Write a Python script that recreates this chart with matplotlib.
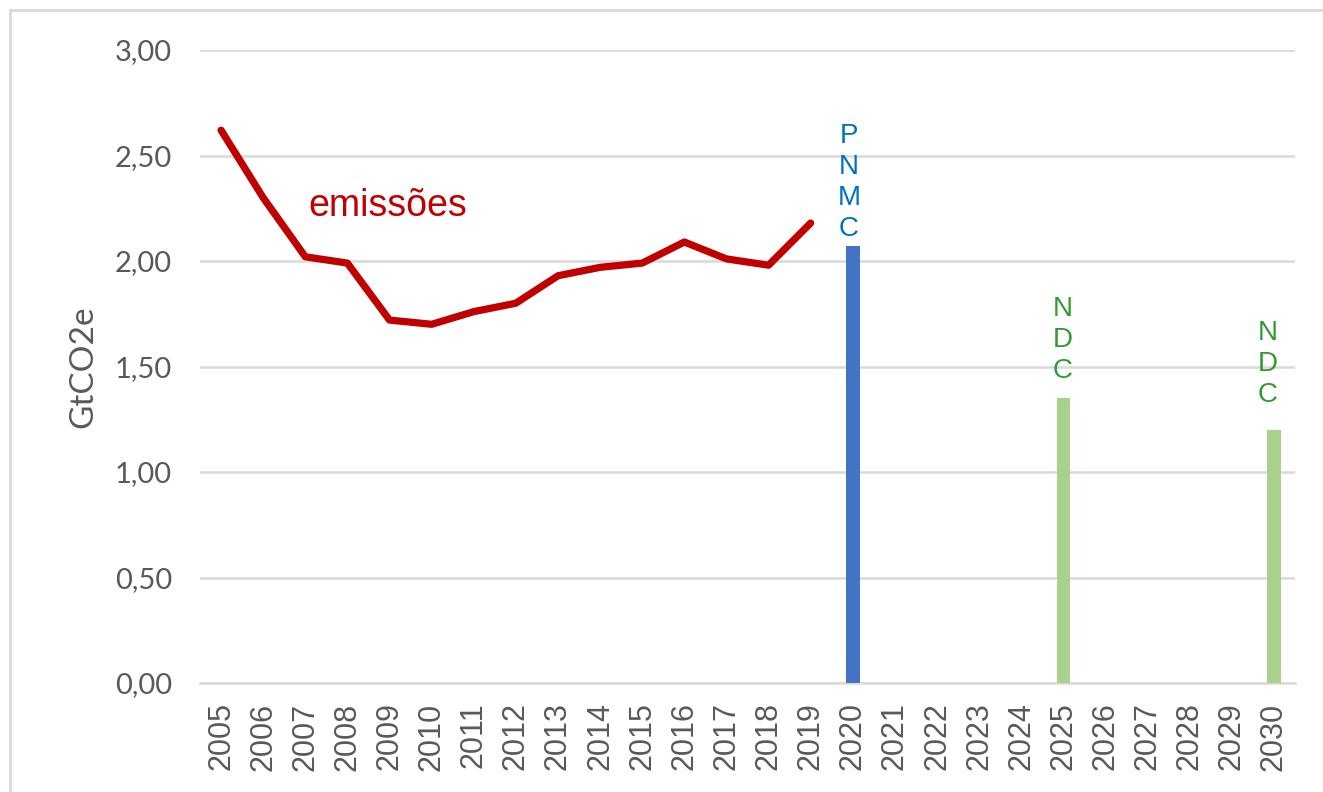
import matplotlib
matplotlib.use("Agg")
import matplotlib.pyplot as plt
from matplotlib.lines import Line2D
import numpy as np

years = [str(y) for y in range(2005, 2031)]
emission_years = [str(y) for y in range(2005, 2020)]
emissions = [2.62, 2.30, 2.02, 1.99, 1.72, 1.70, 1.76, 1.80, 1.93, 1.97, 1.99, 2.09, 2.01, 1.98, 2.18]
target_years = ["2020", "2025", "2030"]
target_values = [2.07, 1.35, 1.20]
target_labels = ["PNMC", "NDC", "NDC"]
yticks = [0.0, 0.5, 1.0, 1.5, 2.0, 2.5, 3.0]
ytick_labels = ["0,00", "0,50", "1,00", "1,50", "2,00", "2,50", "3,00"]

W, H = 1323, 792
fig = plt.figure(figsize=(W / 100, H / 100), dpi=100)
ax = fig.add_axes([200 / W, 1 - 683 / H, 1095 / W, 633 / H])

xpos = {y: i for i, y in enumerate(years)}
bar_colors = ["#4472C4", "#A9D18E", "#A9D18E"]
text_colors = ["#0070C0", "#339933", "#339933"]
label_offsets = [(-4, 4), (-1, 14), (-6, 22)]

ax.bar([xpos[y] for y in target_years], target_values, width=0.32,
       color=bar_colors, zorder=3)
ax.plot([xpos[y] for y in emission_years], emissions, color="#C00000", lw=5.2,
        solid_capstyle="round", solid_joinstyle="round", zorder=4)

for y, v, lab, c, off in zip(target_years, target_values, target_labels,
                             text_colors, label_offsets):
    ax.annotate("\n".join(lab), xy=(xpos[y], v), xytext=off,
                textcoords="offset pixels", ha="center", va="bottom",
                color=c, fontsize=20, family="Liberation Sans",
                linespacing=1.25, multialignment="center")

ax.text(2.07, 2.26, "emissões", color="#C00000", fontsize=27,
        family="Liberation Sans", ha="left", va="center")

ax.set_xlim(-0.5, len(years) - 0.5)
ax.set_ylim(0, 3.0)
ax.set_xticks(range(len(years)))
ax.set_xticklabels(years, rotation=90, family="Liberation Sans", fontsize=22,
                   color="#595959")
ax.set_yticks(yticks)
ax.set_yticklabels(ytick_labels, family="Lato", fontsize=21, color="#595959")
ax.tick_params(axis="both", length=0)
ax.tick_params(axis="y", pad=20)
ax.tick_params(axis="x", pad=14)

ax.grid(axis="y", color="#D9D9D9", lw=1.8, zorder=0)
ax.set_axisbelow(True)
for s in ["top", "right", "left"]:
    ax.spines[s].set_visible(False)
ax.spines["bottom"].set_color("#D9D9D9")
ax.spines["bottom"].set_linewidth(1.8)

ax.set_ylabel("GtCO2e", family="Lato", fontsize=24, color="#595959")
ax.yaxis.set_label_coords((98 - 200) / 1095, 0.5)

# outer light border (cropped at right and bottom)
fig.add_artist(Line2D([9.7 / W, 1.0], [1 - 9.7 / H, 1 - 9.7 / H],
                      transform=fig.transFigure, color="#D9D9D9", lw=2))
fig.add_artist(Line2D([9.7 / W, 9.7 / W], [0.0, 1 - 9.7 / H],
                      transform=fig.transFigure, color="#D9D9D9", lw=2))

fig.savefig("out.png", dpi=100)
